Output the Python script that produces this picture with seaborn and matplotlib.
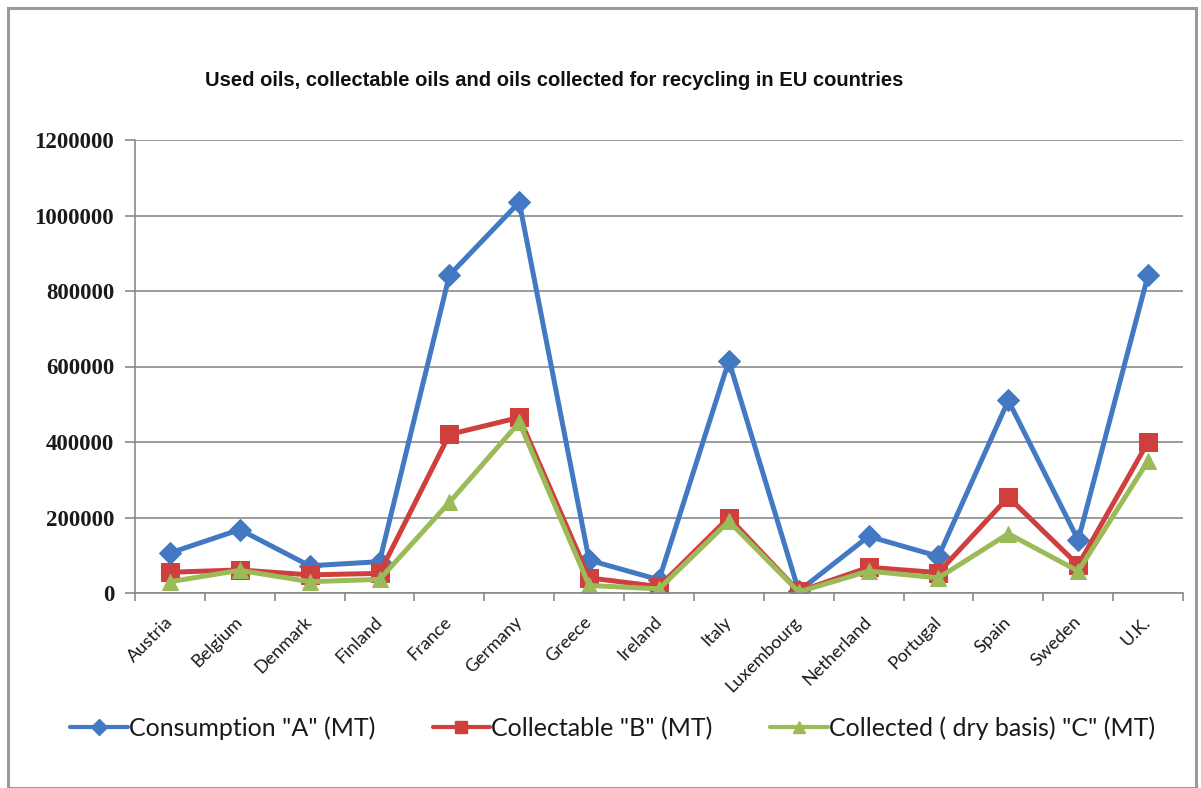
import matplotlib
matplotlib.use("Agg")
import matplotlib.pyplot as plt
import seaborn as sns
import pandas as pd
from matplotlib.lines import Line2D
from matplotlib.patches import Rectangle
from matplotlib.ticker import FixedLocator, NullFormatter

countries = ["Austria", "Belgium", "Denmark", "Finland", "France", "Germany",
             "Greece", "Ireland", "Italy", "Luxembourg", "Netherland",
             "Portugal", "Spain", "Sweden", "U.K."]
consumption = [106000, 168000, 72000, 83000, 842000, 1035000, 87000, 35000,
               615000, 5000, 150000, 97000, 510000, 140000, 842000]
collectable = [55000, 61000, 48000, 52000, 420000, 465000, 40000, 17000,
               200000, 4000, 68000, 54000, 254000, 74000, 400000]
collected = [30000, 60000, 30000, 36000, 240000, 452000, 20000, 11000,
             190000, 3000, 58000, 40000, 157000, 58000, 350000]

series_names = ['Consumption "A" (MT)', 'Collectable "B" (MT)',
                'Collected ( dry basis) "C" (MT)']
y_ticks = [0, 200000, 400000, 600000, 800000, 1000000, 1200000]
title = "Used oils, collectable oils and oils collected for recycling in EU countries"

sns.set_theme(style="white")
plt.rcParams["font.family"] = ["Lato", "DejaVu Sans"]

W, H = 1201, 788
fig = plt.figure(figsize=(W / 100, H / 100), dpi=100)
fig.patch.set_facecolor("white")

# outer chart frame
fig.add_artist(Rectangle((8 / W, 0), (1196 - 8) / W, (H - 8) / H,
                         transform=fig.transFigure, fill=False,
                         edgecolor="#9a9a9a", linewidth=2.2))

ax = fig.add_axes([135 / W, 1 - 593 / H, (1183 - 135) / W, (593 - 140) / H])

df = pd.DataFrame({"country": countries, "A": consumption,
                   "B": collectable, "C": collected})

styles = [
    ("A", "#4279C2", "D", 11),
    ("B", "#CF3F3D", "s", 13),
    ("C", "#9BBB59", "^", 12),
]
handles = []
for (col, color, marker, ms), name in zip(styles, series_names):
    sns.lineplot(data=df, x="country", y=col, ax=ax, sort=False,
                 color=color, linewidth=3.6, marker=marker, markersize=ms,
                 markeredgecolor=color, markerfacecolor=color, label=None,
                 legend=False)
    handles.append(Line2D([], [], color=color, linewidth=3.0, marker=marker,
                          markersize=ms * 0.7, markeredgecolor=color,
                          markerfacecolor=color, label=name))

ax.set_xlim(-0.5, len(countries) - 0.5)
ax.set_ylim(0, 1200000)
ax.set_yticks(y_ticks)
ax.set_yticklabels([str(v) for v in y_ticks], fontsize=16.5,
                   family=["Liberation Serif"], fontweight="bold",
                   color="#1a1a1a")
ax.yaxis.grid(True, color="#8a8a8a", linewidth=1.2)
ax.xaxis.grid(False)
ax.set_axisbelow(True)

ax.set_xticks(range(len(countries)))
ax.set_xticklabels(countries, rotation=45, ha="right", va="center",
                   rotation_mode="anchor", fontsize=13, color="#1a1a1a")
ax.tick_params(axis="x", which="major", length=0, pad=19)
ax.xaxis.set_minor_locator(FixedLocator([i - 0.5 for i in range(len(countries) + 1)]))
ax.xaxis.set_minor_formatter(NullFormatter())
ax.tick_params(axis="x", which="minor", length=6, width=1.2,
               color="#8a8a8a", direction="out", bottom=True)
ax.tick_params(axis="y", length=7, width=1.2, color="#8a8a8a",
               direction="out", left=True, pad=8)

ax.set_xlabel("")
ax.set_ylabel("")
for side in ["top", "right"]:
    ax.spines[side].set_visible(False)
for side in ["left", "bottom"]:
    ax.spines[side].set_color("#8a8a8a")
    ax.spines[side].set_linewidth(1.2)

fig.text(554 / W, 1 - 80 / H, title, ha="center", va="center",
         fontsize=14.5, fontweight="bold", family=["Liberation Sans"],
         color="#111111")

fig.legend(handles=handles, loc="center left",
           bbox_to_anchor=(70 / W, 1 - 728 / H), ncol=3, frameon=False,
           fontsize=18, handlelength=2.3, handletextpad=0.05,
           columnspacing=2.3, borderpad=0, borderaxespad=0,
           labelcolor="#1a1a1a")

fig.savefig("out.png", dpi=100, facecolor="white")
